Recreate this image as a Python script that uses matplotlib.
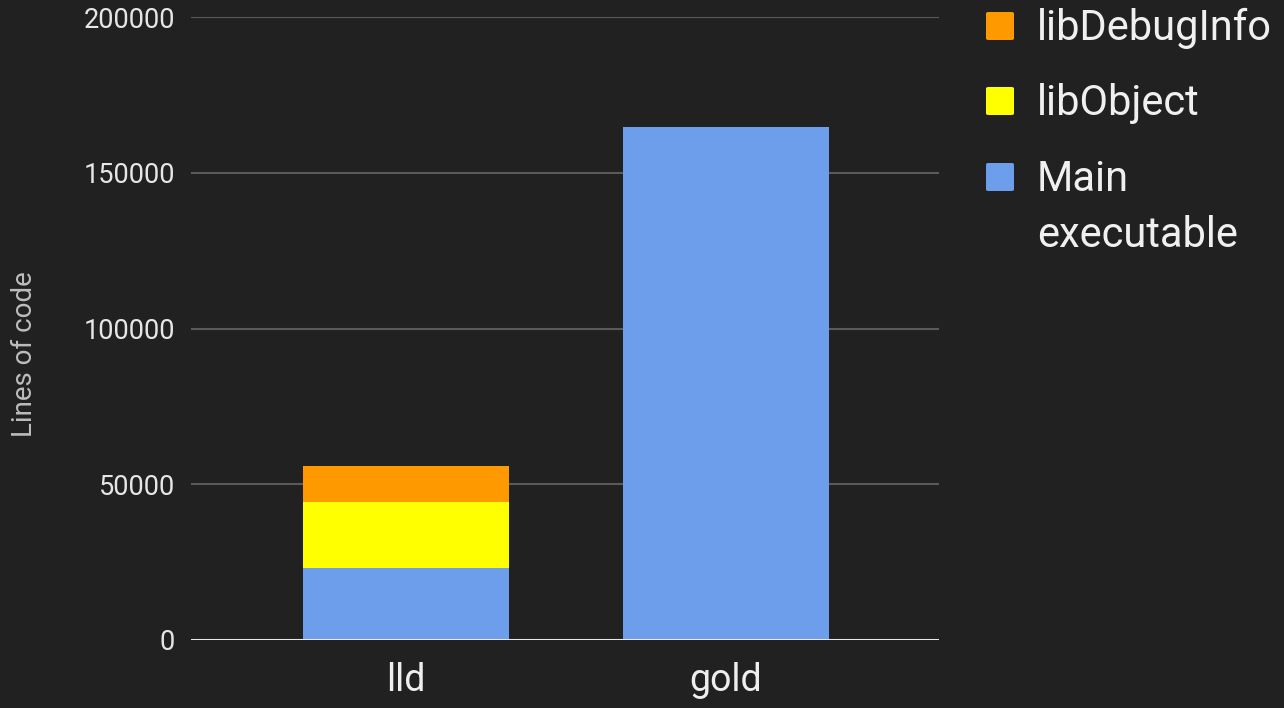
import matplotlib
matplotlib.use("Agg")
import matplotlib.pyplot as plt
from matplotlib.patches import FancyBboxPatch
import numpy as np

categories = ["lld", "gold"]
main_exec = [23200, 164800]
lib_object = [21200, 0]
lib_debuginfo = [11500, 0]
yticks = [0, 50000, 100000, 150000, 200000]
legend_labels = ["libDebugInfo", "libObject", "Main\nexecutable"]

BG = "#212121"
C_MAIN = "#6d9eeb"
C_OBJ = "#ffff00"
C_DBG = "#ff9900"
legend_colors = [C_DBG, C_OBJ, C_MAIN]

plt.rcParams['font.family'] = ['Roboto', 'DejaVu Sans']

W, H = 1284, 708
fig = plt.figure(figsize=(W/100, H/100), dpi=100, facecolor=BG)
ax = fig.add_axes([191/W, 1 - 640/H, (939-191)/W, (640-17)/H])
ax.set_facecolor(BG)

x = np.arange(len(categories))
w = 0.644
main = np.array(main_exec)
obj = np.array(lib_object)
dbg = np.array(lib_debuginfo)
ax.bar(x, main, width=w, color=C_MAIN, zorder=3)
ax.bar(x, obj, width=w, bottom=main, color=C_OBJ, zorder=3)
ax.bar(x, dbg, width=w, bottom=main + obj, color=C_DBG, zorder=3)

ax.set_xlim(-0.672, 1.666)
ax.set_ylim(0, 200000)
ax.set_yticks(yticks)
ax.set_yticklabels([str(v) for v in yticks], fontsize=19.5, color="#e6e6e6")
ax.set_xticks(x)
ax.set_xticklabels(categories, fontsize=27, color="#eeeeee")
ax.tick_params(axis='y', length=0, pad=11.5)
ax.tick_params(axis='x', length=0, pad=16)
for v in yticks[1:]:
    ax.axhline(v, color="#5a5a5a", lw=1.5, zorder=1)
ax.axhline(0, color="#e8e8e8", lw=2.2, zorder=4)
for s in ax.spines.values():
    s.set_visible(False)

fig.text(25/W, 1 - 354/H, "Lines of code", rotation=90, ha="center", va="center",
         fontsize=20, color="#bdbdbd")

# legend (drawn manually for exact placement)
sq_x, sq = 986, 28
baselines = [40, 115, 191]
for lab, col, b in zip(legend_labels, legend_colors, baselines):
    fig.patches.append(FancyBboxPatch(((sq_x)/W, 1 - b/H), sq/W, sq/H,
                                      boxstyle="round,pad=0,rounding_size=0.002",
                                      transform=fig.transFigure, facecolor=col,
                                      edgecolor="none", figure=fig))
    lines = lab.split("\n")
    for i, ln in enumerate(lines):
        fig.text(1037/W, 1 - (b + i*56)/H, ln, ha="left", va="baseline",
                 fontsize=30, color="#f0f0f0")

fig.savefig("out.png", dpi=100, facecolor=BG)
